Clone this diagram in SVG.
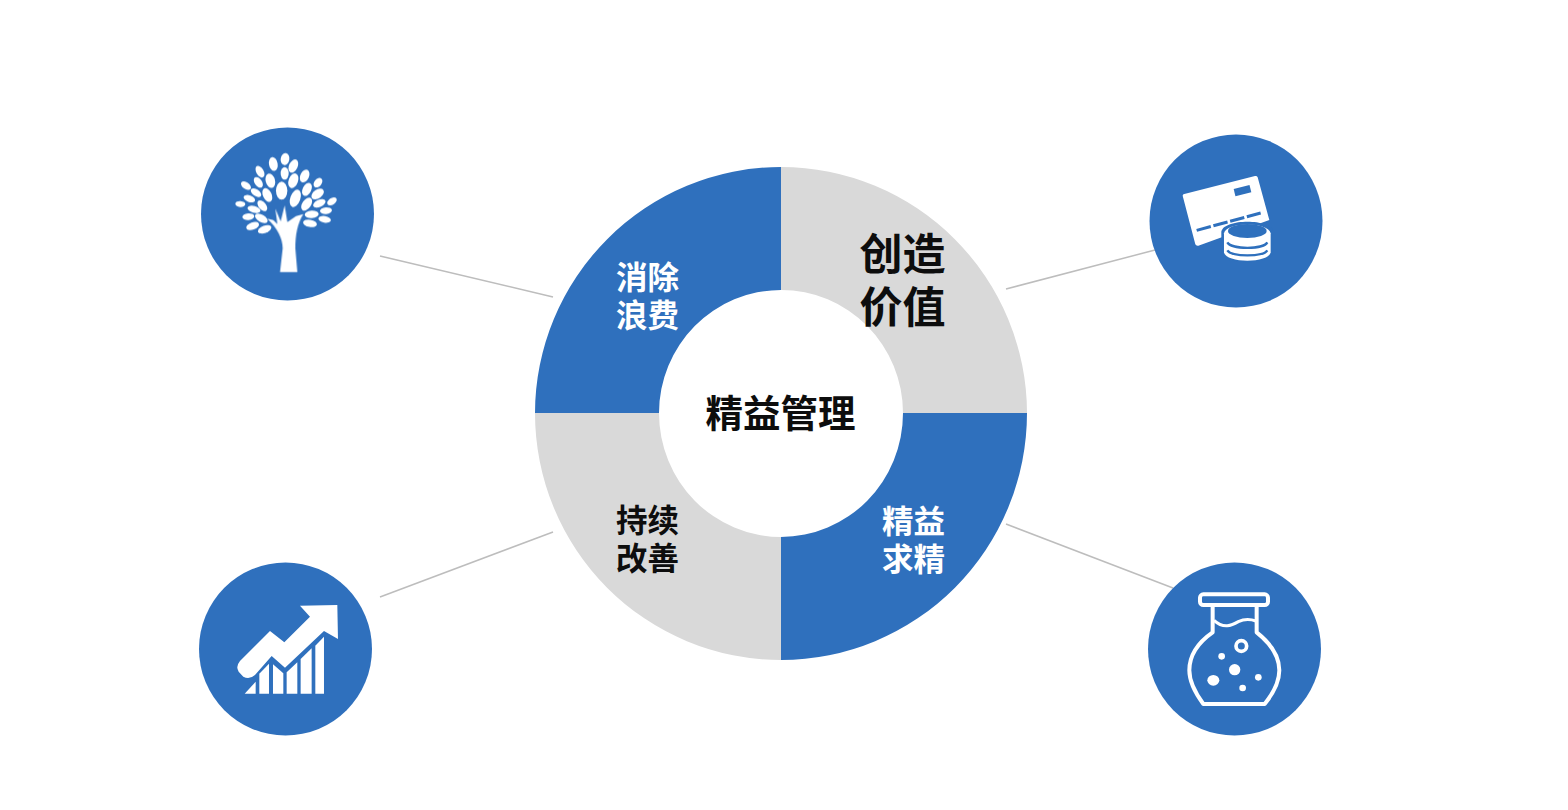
<svg xmlns="http://www.w3.org/2000/svg" width="1568" height="810" viewBox="0 0 1568 810">
<defs><filter id="soft" x="-5%" y="-5%" width="110%" height="110%"><feGaussianBlur stdDeviation="1.800"/></filter></defs>
<style>
.blue{fill:#2f70bd}
.gray{fill:#d9d9d9}
.w{fill:#fff}
.o{fill:none;stroke:#fff;stroke-width:12;stroke-linejoin:round;stroke-linecap:round}
.conn{stroke:#bdbdbd;stroke-width:1.5;fill:none}
text{font-family:"Noto Sans CJK SC","Noto Sans",sans-serif;font-weight:700;text-anchor:middle;dominant-baseline:central}
.s{font-size:31.5px}
.m{font-size:37.5px;fill:#0d0d0d}
.l{font-size:43px;fill:#0d0d0d}
</style>
<rect width="1568" height="810" fill="#fff"/>
<g id="connectors" class="conn">
<line x1="380" y1="256" x2="553" y2="297"/>
<line x1="1006" y1="289" x2="1155" y2="250"/>
<line x1="380" y1="597" x2="553" y2="532"/>
<line x1="1006" y1="524" x2="1173" y2="588"/>
</g>
<g id="donut">
<path class="blue" d="M781 167A246.500 246.500 0 0 0 535 413H659A122 123 0 0 1 781 290Z"/>
<path class="gray" d="M781 167A246.500 246.500 0 0 1 1027 413H903A122 123 0 0 0 781 290Z"/>
<path class="blue" d="M1027 413A246 247 0 0 1 781 660V537A122 124 0 0 0 903 413Z"/>
<path class="gray" d="M535 413A246 247 0 0 0 781 660V537A122 124 0 0 1 659 413Z"/>
</g>
<g id="center-label"><text class="m" x="780.500" y="410">精益管理</text></g>
<g id="seg-waste"><text class="s w" x="647.500" y="274.500">消除</text><text class="s w" x="647.500" y="312.500">浪费</text></g>
<g id="seg-value"><text class="l" x="902.500" y="251">创造</text><text class="l" x="902.500" y="304">价值</text></g>
<g id="seg-improve"><text class="s" x="647.500" y="517.500" fill="#0d0d0d">持续</text><text class="s" x="647.500" y="555.500" fill="#0d0d0d">改善</text></g>
<g id="seg-refine"><text class="s w" x="913.500" y="518.500">精益</text><text class="s w" x="913.500" y="556.500">求精</text></g>
<g id="node-tree">
<circle class="blue" cx="287.500" cy="214" r="86.500"/>
<g transform="translate(190 120) scale(.3333)" class="w" filter="url(#soft)">
<path d="M270 456L278 385C278 355 262 325 232 296L250 300L262 312L256 266L272 304L284 256L292 306L318 288L340 282C322 310 316 345 316 385L322 456Z"/>
<ellipse cx="285" cy="117" rx="13" ry="18" transform="rotate(10 285 117)"/>
<ellipse cx="250" cy="132" rx="13" ry="21" transform="rotate(-10 250 132)"/>
<ellipse cx="310" cy="138" rx="13" ry="21" transform="rotate(25 310 138)"/>
<ellipse cx="210" cy="155" rx="11" ry="19" transform="rotate(-30 210 155)"/>
<ellipse cx="284" cy="160" rx="12" ry="19"/>
<ellipse cx="344" cy="168" rx="13" ry="20" transform="rotate(25 344 168)"/>
<ellipse cx="205" cy="187" rx="11" ry="18" transform="rotate(-35 205 187)"/>
<ellipse cx="241" cy="182" rx="14" ry="22" transform="rotate(-15 241 182)"/>
<ellipse cx="310" cy="182" rx="14" ry="23" transform="rotate(20 310 182)"/>
<ellipse cx="384" cy="188" rx="11" ry="16" transform="rotate(40 384 188)"/>
<ellipse cx="168" cy="197" rx="10" ry="17" transform="rotate(-55 168 197)"/>
<ellipse cx="275" cy="212" rx="17" ry="27"/>
<ellipse cx="351" cy="208" rx="13" ry="21" transform="rotate(25 351 208)"/>
<ellipse cx="198" cy="218" rx="10" ry="18" transform="rotate(-55 198 218)"/>
<ellipse cx="232" cy="225" rx="13" ry="22" transform="rotate(-25 232 225)"/>
<ellipse cx="316" cy="235" rx="15" ry="27" transform="rotate(20 316 235)"/>
<ellipse cx="383" cy="222" rx="13" ry="21" transform="rotate(55 383 222)"/>
<ellipse cx="178" cy="236" rx="10" ry="18" transform="rotate(-70 178 236)"/>
<ellipse cx="151" cy="252" rx="9" ry="15" transform="rotate(-85 151 252)"/>
<ellipse cx="350" cy="252" rx="13" ry="22" transform="rotate(35 350 252)"/>
<ellipse cx="388" cy="250" rx="11" ry="20" transform="rotate(65 388 250)"/>
<ellipse cx="426" cy="244" rx="10" ry="16" transform="rotate(55 426 244)"/>
<ellipse cx="217" cy="257" rx="11" ry="19" transform="rotate(-40 217 257)"/>
<ellipse cx="192" cy="268" rx="10" ry="20" transform="rotate(-75 192 268)"/>
<ellipse cx="408" cy="272" rx="10" ry="18" transform="rotate(85 408 272)"/>
<ellipse cx="365" cy="283" rx="11" ry="21" transform="rotate(85 365 283)"/>
<ellipse cx="175" cy="290" rx="10" ry="18" transform="rotate(85 175 290)"/>
<ellipse cx="214" cy="295" rx="11" ry="21" transform="rotate(-60 214 295)"/>
<ellipse cx="404" cy="298" rx="10" ry="19" transform="rotate(100 404 298)"/>
<ellipse cx="360" cy="310" rx="11" ry="21" transform="rotate(100 360 310)"/>
<ellipse cx="188" cy="318" rx="11" ry="20" transform="rotate(70 188 318)"/>
<ellipse cx="224" cy="328" rx="11" ry="21" transform="rotate(70 224 328)"/>
</g>
</g>
<g id="node-card">
<circle class="blue" cx="1236" cy="221" r="86.500"/>
<g transform="translate(1140 125) scale(.3333)" filter="url(#soft)">
<path class="w" d="M128 212Q128 208 133 207L345 153Q351 152 353 157L388 285L175 362Q168 363 166 358Z"/>
<rect x="283" y="186" width="49" height="22" class="blue" transform="rotate(-14 307 197)"/>
<path d="M170 316L362 264" stroke="#2f70bd" stroke-width="9" stroke-dasharray="44 8" fill="none"/>
<path d="M244 345V385C250 422 395 422 400 385V320C395 280 250 280 244 320Z" class="blue"/>
<path d="M252 325V382C258 416 386 416 392 382V325C386 290 258 290 252 325Z" class="w"/>
<ellipse cx="322" cy="318" rx="58" ry="21" class="blue"/>
<path d="M262 352C275 374 370 374 382 352M262 376C275 396 370 396 382 376" fill="none" stroke="#2f70bd" stroke-width="7"/>
</g>
</g>
<g id="node-chart">
<circle class="blue" cx="285.500" cy="649" r="86.500"/>
<g transform="translate(190 555) scale(.3333)" class="w" filter="url(#soft)">
<path d="M330 152L442 150L444 252L402 228L285 338L245 303L195 360Q178 375 160 365L146 350Q136 335 150 318L240 228L283 262L360 185Z"/>
<path d="M164 416L197 380V416Z"/>
<path d="M208 416V356L237 326V416Z"/>
<path d="M249 416V328L280 355V416Z"/>
<path d="M290 416V352L322 322V416Z"/>
<path d="M332 416V312L365 280V416Z"/>
<path d="M376 416V272L402 245V416Z"/>
</g>
</g>
<g id="node-flask">
<circle class="blue" cx="1234.500" cy="649" r="86.500"/>
<g transform="translate(1140 555) scale(.3333)" filter="url(#soft)">
<rect x="180" y="118" width="204" height="32" rx="10" class="o"/>
<path class="o" d="M218 152V232C175 262 148 300 148 346C148 385 170 420 190 447H374C396 420 418 385 418 346C418 300 388 262 350 232V152"/>
<path d="M222 196C250 222 275 212 295 200C315 190 332 192 348 198" fill="none" stroke="#fff" stroke-width="9"/>
<circle cx="304" cy="273" r="16" fill="none" stroke="#fff" stroke-width="11"/>
<circle cx="245" cy="304" r="10" class="w"/>
<circle cx="284" cy="344" r="17" class="w"/>
<ellipse cx="220" cy="376" rx="18" ry="16" class="w"/>
<circle cx="355" cy="367" r="10" class="w"/>
<circle cx="308" cy="399" r="10" class="w"/>
</g>
</g>
</svg>
